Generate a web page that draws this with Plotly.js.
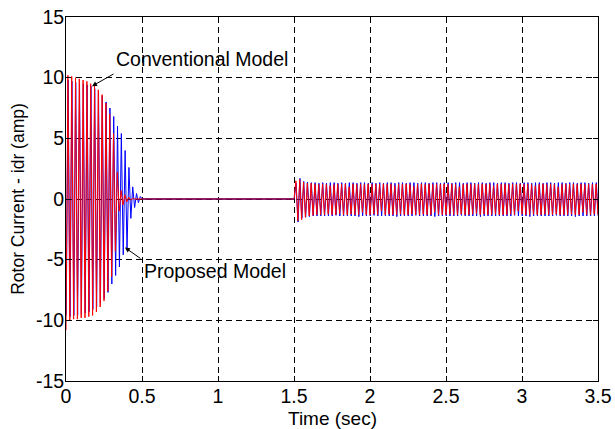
<!DOCTYPE html>
<html>
<head>
<meta charset="utf-8">
<script src="https://cdn.plot.ly/plotly-3.0.1.min.js"></script>
<style>html,body{margin:0;padding:0;background:#fff;}#chart{width:615px;height:429px;}</style>
</head>
<body>
<div id="chart"></div>
<script>
// ---- data (peak samples of the oscillating currents) ----
const sampleStep = 0.0125;          // seconds between successive peaks
const redStartT0 = 0;
const blueStartT0 = 0.0015;
const redPostT0 = 1.5;
const bluePostT0 = 1.5015;
const flatT = [0.5, 1.5];
const flatY = [0, 0];

// Conventional model (red), 0 .. 0.5 s
const redStart = [
  -10.8, 10.2, -10.0, 10.1, -9.9, 10.0, -9.9, 9.9, -9.8, 9.8, -9.8, 9.7, -9.7, 9.5, -9.6, 9.3,
  -9.3, 9.0, -8.9, 8.6, -8.4, 7.9, -7.6, 7.0, -6.4, 5.4, -4.3, 2.2, -1.0, 0.7, -0.5, 0.35,
  -0.25, 0.15, -0.1, 0.05, 0, 0, 0, 0, 0
];
// Proposed model (blue), 0 .. 0.5 s
const blueStart = [
  -9.6, 9.8, -9.7, 9.7, -9.6, 9.6, -9.6, 9.5, -9.5, 9.5, -9.4, 9.4, -9.3, 9.3, -9.1, 9.1,
  -8.9, 8.8, -8.6, 8.5, -8.2, 8.0, -7.7, 7.5, -7.0, 6.8, -6.3, 6.0, -5.6, 5.4, -4.6, 4.0,
  -4.2, 2.6, -1.6, 1.0, -0.7, 0.45, -0.3, 0.2, 0
];
// Conventional model (red), 1.5 .. 3.5 s
const redPost = [
  0, 1.5, -1.8, 1.6, -1.7, 1.4, -1.5, 1.3, -1.4, 1.3, -1.35, 1.25, -1.3, 1.2, -1.3, 1.25,
  -1.3, 1.2, -1.25, 1.1, -1.3, 1.2, -1.3, 1.25, -1.2, 1.2, -1.3, 1.25, -1.3, 1.0, -1.25, 1.25,
  -1.3, 1.2, -1.3, 1.25, -1.1, 1.2, -1.3, 1.25, -1.3, 1.2, -1.25, 1.25, -1.3, 1.2, -1.0, 1.25,
  -1.3, 1.2, -1.25, 1.25, -1.3, 1.1, -1.3, 1.25, -1.25, 1.2, -1.3, 1.25, -1.3, 1.2, -1.25, 1.05,
  -1.3, 1.2, -1.3, 1.25, -1.25, 1.2, -1.3, 1.25, -1.3, 1.2, -1.1, 1.25, -1.3, 1.2, -1.3, 1.25,
  -1.3, 1.2, -1.25, 1.25, -1.3, 1.2, -1.3, 1.0, -1.25, 1.2, -1.3, 1.25, -1.3, 1.2, -1.25, 1.25,
  -1.2, 1.2, -1.3, 1.25, -1.25, 1.2, -1.3, 1.25, -1.3, 1.1, -1.25, 1.25, -1.3, 1.2, -1.3, 1.25,
  -1.3, 1.2, -1.25, 1.25, -1.3, 1.2, -1.0, 1.25, -1.25, 1.2, -1.3, 1.25, -1.3, 1.2, -1.25, 1.1,
  -1.3, 1.2, -1.3, 1.25, -1.25, 1.2, -1.3, 1.25, -1.3, 1.2, -1.25, 1.0, -1.3, 1.2, -1.3, 1.25,
  -1.3, 1.2, -1.25, 1.25, -1.3, 1.2, -1.3, 1.25, -1.1, 1.2, -1.3, 1.25, -1.3, 1.2, -1.25, 1.25,
  -1.3
];
// Proposed model (blue), 1.5 .. 3.5 s
const bluePost = [
  0, 1.3, -1.9, 1.7, -1.6, 1.45, -1.5, 1.4, -1.45, 1.35, -1.4, 1.35, -1.4, 1.3, -1.4, 1.35,
  -1.4, 1.3, -1.4, 1.35, -1.4, 1.35, -1.35, 1.3, -1.4, 1.35, -1.4, 1.3, -1.4, 1.35, -1.4, 1.35,
  -1.4, 1.3, -1.45, 1.35, -1.4, 1.35, -1.4, 1.3, -1.4, 1.35, -1.35, 1.3, -1.4, 1.35, -1.4, 1.3,
  -1.4, 1.35, -1.4, 1.35, -1.4, 1.3, -1.45, 1.35, -1.4, 1.35, -1.4, 1.3, -1.4, 1.35, -1.4, 1.35,
  -1.35, 1.3, -1.4, 1.35, -1.4, 1.35, -1.4, 1.3, -1.4, 1.35, -1.45, 1.35, -1.4, 1.3, -1.4, 1.35,
  -1.4, 1.35, -1.4, 1.3, -1.4, 1.35, -1.4, 1.35, -1.35, 1.3, -1.4, 1.35, -1.4, 1.35, -1.4, 1.3,
  -1.4, 1.35, -1.45, 1.35, -1.4, 1.3, -1.4, 1.35, -1.4, 1.35, -1.4, 1.3, -1.4, 1.35, -1.4, 1.35,
  -1.4, 1.3, -1.4, 1.35, -1.35, 1.35, -1.4, 1.3, -1.4, 1.35, -1.4, 1.35, -1.45, 1.3, -1.4, 1.35,
  -1.4, 1.35, -1.4, 1.3, -1.4, 1.35, -1.4, 1.35, -1.4, 1.3, -1.35, 1.35, -1.4, 1.35, -1.4, 1.3,
  -1.4, 1.35, -1.4, 1.35, -1.45, 1.3, -1.4, 1.35, -1.4, 1.35, -1.4, 1.3, -1.4, 1.35, -1.4, 1.35,
  -1.4
];

const xTickVals = [0, 0.5, 1, 1.5, 2, 2.5, 3, 3.5];
const xTickText = ['0', '0.5', '1', '1.5', '2', '2.5', '3', '3.5'];
const yTickVals = [-15, -10, -5, 0, 5, 10, 15];
const yTickText = ['-15', '-10', '-5', '0', '5', '10', '15'];

const xTitle = 'Time (sec)';
const yTitle = 'Rotor Current - idr (amp)';
const labelConv = 'Conventional Model';
const labelProp = 'Proposed Model';
const convArrowAt = [0.171, 9.3];
const propArrowAt = [0.388, -4.0];
const convTextAt = [0.318, 11.5];
const propTextAt = [0.500, -5.95];

const RED = 'rgb(255,0,0)';
const BLUE = 'rgb(0,0,255)';
const FONT = 'Liberation Sans, Arial, Helvetica, sans-serif';

const lineStyle = c => ({color: c, width: 1});

const traces = [
  {type: 'scatter', mode: 'lines', y: blueStart, x0: blueStartT0, dx: sampleStep, line: lineStyle(BLUE), hoverinfo: 'skip'},
  {type: 'scatter', mode: 'lines', y: bluePost, x0: bluePostT0, dx: sampleStep, line: lineStyle(BLUE), hoverinfo: 'skip'},
  {type: 'scatter', mode: 'lines', x: flatT, y: flatY, line: lineStyle(BLUE), hoverinfo: 'skip'},
  {type: 'scatter', mode: 'lines', y: redStart, x0: redStartT0, dx: sampleStep, line: lineStyle(RED), hoverinfo: 'skip'},
  {type: 'scatter', mode: 'lines', y: redPost, x0: redPostT0, dx: sampleStep, line: lineStyle(RED), hoverinfo: 'skip'},
  {type: 'scatter', mode: 'lines', x: flatT, y: flatY, line: {color: 'rgb(150,0,50)', width: 1.5}, hoverinfo: 'skip'}
];

const axisCommon = {
  showline: true, linecolor: 'black', linewidth: 1, mirror: 'ticks',
  ticks: 'inside', ticklen: 5, tickwidth: 1, tickcolor: 'black',
  showgrid: true, gridcolor: 'black', gridwidth: 1, griddash: '6px,4px',
  zeroline: false, tickfont: {family: FONT, size: 19.5, color: 'black'}
};

const layout = {
  width: 615, height: 429,
  margin: {l: 66, r: 17, t: 17, b: 48, pad: 0},
  paper_bgcolor: 'white', plot_bgcolor: 'white',
  showlegend: false,
  font: {family: FONT, color: 'black', size: 17.5},
  xaxis: Object.assign({}, axisCommon, {
    range: [0, 3.5], tickmode: 'array', tickvals: xTickVals, ticktext: xTickText,
    ticklabelstandoff: -2
  }),
  yaxis: Object.assign({}, axisCommon, {
    range: [-15, 15], tickmode: 'array', tickvals: yTickVals, ticktext: yTickText,
    ticklabelstandoff: -3,
    title: {text: yTitle, font: {family: FONT, size: 17.5, color: 'black'}, standoff: 6}
  }),
  annotations: [
    {x: 0.5, y: -0.102, xref: 'paper', yref: 'paper', text: xTitle, showarrow: false,
     xanchor: 'center', yanchor: 'middle', font: {family: FONT, size: 19, color: 'black'}},
    {x: convArrowAt[0], y: convArrowAt[1], xref: 'x', yref: 'y', text: '', showarrow: true,
     ax: 23, ay: -13, arrowhead: 2, arrowsize: 1, arrowwidth: 1, arrowcolor: 'black'},
    {x: propArrowAt[0], y: propArrowAt[1], xref: 'x', yref: 'y', text: '', showarrow: true,
     ax: 17, ay: 12, arrowhead: 2, arrowsize: 1, arrowwidth: 1, arrowcolor: 'black'},
    {x: convTextAt[0], y: convTextAt[1], xref: 'x', yref: 'y', text: labelConv, showarrow: false,
     xanchor: 'left', yanchor: 'middle', font: {family: FONT, size: 19.5, color: 'black'}},
    {x: propTextAt[0], y: propTextAt[1], xref: 'x', yref: 'y', text: labelProp, showarrow: false,
     xanchor: 'left', yanchor: 'middle', font: {family: FONT, size: 19.5, color: 'black'}}
  ]
};

Plotly.newPlot('chart', traces, layout, {staticPlot: true, displayModeBar: false});
</script>
</body>
</html>
